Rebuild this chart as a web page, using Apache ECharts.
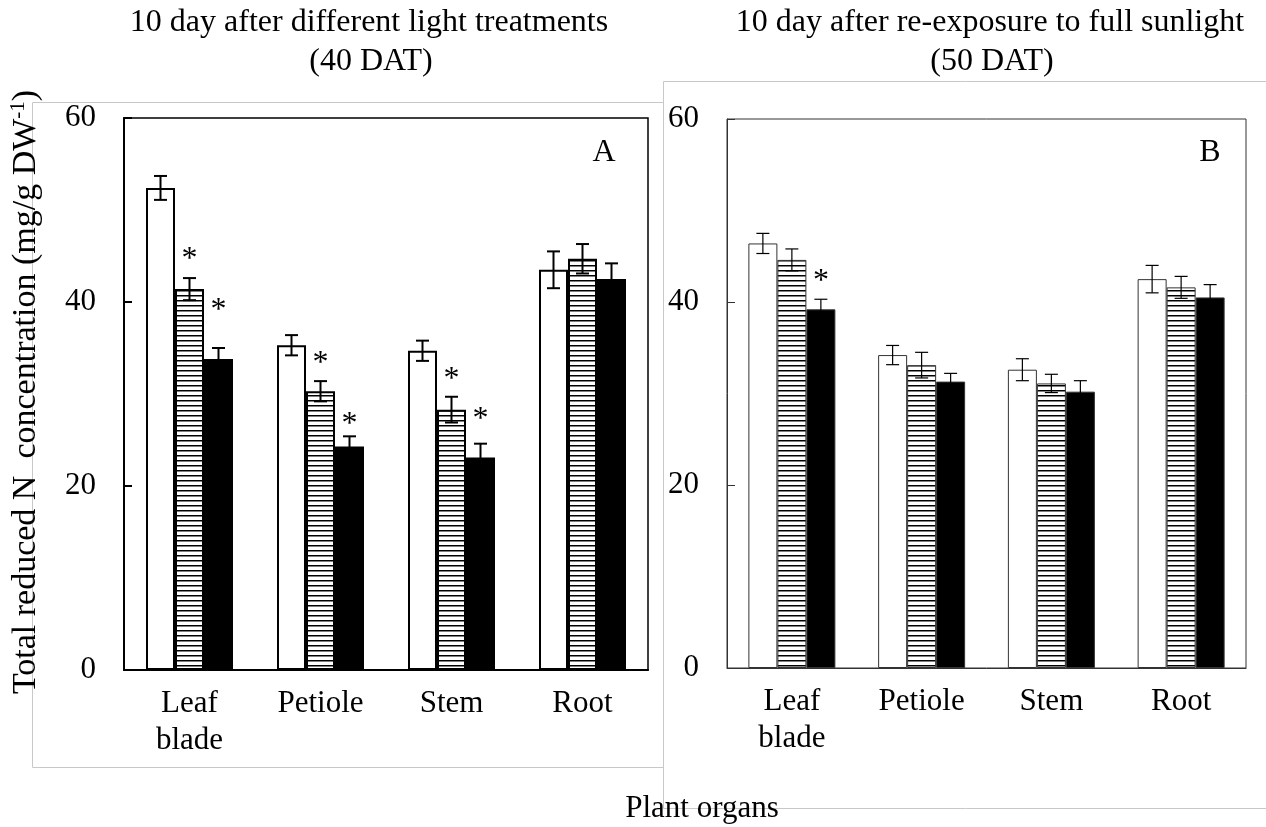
<!DOCTYPE html>
<html>
<head>
<meta charset="utf-8">
<script src="https://cdn.jsdelivr.net/npm/echarts@6/dist/echarts.min.js"></script>
<style>
  html, body { margin: 0; padding: 0; background: #fff; }
  #chart { width: 1266px; height: 827px; }
</style>
</head>
<body>
<div id="chart"></div>
<script>
// organs on the x axis
const organs = ["Leaf\nblade", "Petiole", "Stem", "Root"];

// panel A: 40 DAT (white, striped, black treatments)
const aWhite = [52.4, 35.3, 34.7, 43.5];
const aStriped = [41.4, 30.3, 28.3, 44.7];
const aBlack = [33.8, 24.3, 23.1, 42.5];
const aWhiteErr = [1.3, 1.1, 1.1, 2.0];
const aStripedErr = [1.2, 1.1, 1.4, 1.6];
const aBlackErr = [1.2, 1.1, 1.5, 1.7];
// significance marks: [organ index, treatment index, y position]
const aStars = [[0, 1, 45.4], [0, 2, 39.8], [1, 1, 34.1], [1, 2, 27.4], [2, 1, 32.3], [2, 2, 28.0]];

// panel B: 50 DAT
const bWhite = [46.4, 34.2, 32.6, 42.5];
const bStriped = [44.6, 33.1, 31.1, 41.6];
const bBlack = [39.2, 31.3, 30.2, 40.5];
const bWhiteErr = [1.1, 1.05, 1.2, 1.5];
const bStripedErr = [1.2, 1.4, 1.0, 1.2];
const bBlackErr = [1.1, 0.9, 1.2, 1.4];
const bStars = [[0, 2, 43.0]];

const yTicks = [0, 20, 40, 60];

const FONT = "Liberation Serif";
const BAR_W = 29;

function stripePattern() {
  const c = document.createElement("canvas");
  c.width = 6;
  c.height = 5;
  const ctx = c.getContext("2d");
  ctx.fillStyle = "#fff";
  ctx.fillRect(0, 0, 6, 5);
  ctx.fillStyle = "#000";
  ctx.fillRect(0, 0, 6, 1.5);
  return c;
}
const stripe = { image: stripePattern(), repeat: "repeat" };

function errRender(idx, lw) {
  return function (params, api) {
    const k = api.value(0);
    const v = api.value(1);
    const e = api.value(2);
    const hi = api.coord([k, v + e]);
    const lo = api.coord([k, v - e]);
    const cx = hi[0] + (idx - 1) * BAR_W;
    const half = 6.5;
    const st = { stroke: "#000", lineWidth: lw };
    return {
      type: "group",
      children: [
        { type: "line", shape: { x1: cx, y1: hi[1], x2: cx, y2: lo[1] }, style: st },
        { type: "line", shape: { x1: cx - half, y1: hi[1], x2: cx + half, y2: hi[1] }, style: st },
        { type: "line", shape: { x1: cx - half, y1: lo[1], x2: cx + half, y2: lo[1] }, style: st },
      ],
    };
  };
}

function starRender(params, api) {
  const k = api.value(0);
  const idx = api.value(1);
  const p = api.coord([k, api.value(2)]);
  return {
    type: "text",
    style: {
      x: p[0] + (idx - 1) * BAR_W,
      y: p[1] + 7,
      text: "*",
      fontFamily: FONT,
      fontSize: 32,
      fill: "#000",
      align: "center",
      verticalAlign: "middle",
    },
  };
}

function panelSeries(g, vals, errs, stars, bw, bc) {
  const fills = ["#fff", stripe, "#000"];
  const out = [];
  vals.forEach((v, i) => {
    out.push({
      type: "bar",
      xAxisIndex: g,
      yAxisIndex: g,
      data: v,
      barWidth: BAR_W,
      barGap: "0%",
      itemStyle: { color: fills[i], borderColor: bc, borderWidth: bw },
      silent: true,
      z: 2,
    });
  });
  errs.forEach((e, i) => {
    out.push({
      type: "custom",
      xAxisIndex: g,
      yAxisIndex: g,
      data: e.map((x, k) => [k, vals[i][k], x]),
      renderItem: errRender(i, g === 0 ? 2 : 1.2),
      silent: true,
      z: 5,
    });
  });
  out.push({
    type: "custom",
    xAxisIndex: g,
    yAxisIndex: g,
    data: stars,
    renderItem: starRender,
    silent: true,
    z: 6,
  });
  return out;
}

function xAxis(g, lw, col) {
  return {
    type: "category",
    gridIndex: g,
    data: organs,
    axisLine: { lineStyle: { color: col, width: lw } },
    axisTick: { show: false },
    axisLabel: { fontFamily: FONT, fontSize: 31, color: "#000", lineHeight: 37, margin: 15 },
  };
}

function yAxis(g, lw, col) {
  return {
    type: "value",
    gridIndex: g,
    min: yTicks[0],
    max: yTicks[yTicks.length - 1],
    interval: 20,
    axisLine: { show: true, lineStyle: { color: col, width: lw } },
    axisTick: { show: true, inside: true, length: 8, lineStyle: { color: col, width: lw } },
    splitLine: { show: false },
    axisLabel: { fontFamily: FONT, fontSize: 31, color: "#000", margin: 28 },
  };
}

const titleStyle = { fontFamily: FONT, fontSize: 32, fill: "#000", align: "center", verticalAlign: "middle" };

const chart = echarts.init(document.getElementById("chart"));
chart.setOption({
  animation: false,
  grid: [
    { left: 124, top: 118, width: 524, height: 552, show: true, borderColor: "#000", borderWidth: 1.5, backgroundColor: "transparent" },
    { left: 727, top: 119, width: 519, height: 549, show: true, borderColor: "#333", borderWidth: 1, backgroundColor: "transparent" },
  ],
  xAxis: [xAxis(0, 2, "#000"), xAxis(1, 1, "#333")],
  yAxis: [yAxis(0, 2, "#000"), yAxis(1, 1, "#333")],
  series: [
    ...panelSeries(0, [aWhite, aStriped, aBlack], [aWhiteErr, aStripedErr, aBlackErr], aStars, 2, "#000"),
    ...panelSeries(1, [bWhite, bStriped, bBlack], [bWhiteErr, bStripedErr, bBlackErr], bStars, 1, "#333"),
  ],
  graphic: [
    // light frames round each panel
    { type: "rect", shape: { x: 32.5, y: 102.5, width: 631, height: 665 }, style: { fill: "none", stroke: "#c8c8c8", lineWidth: 1 }, z: 0 },
    { type: "rect", shape: { x: 663.5, y: 81.5, width: 620, height: 727 }, style: { fill: "none", stroke: "#c8c8c8", lineWidth: 1 }, z: 0 },
    // titles
    { type: "text", x: 369, y: 23, style: Object.assign({ text: "10 day after different light treatments" }, titleStyle) },
    { type: "text", x: 371, y: 62, style: Object.assign({ text: "(40 DAT)" }, titleStyle) },
    { type: "text", x: 990, y: 23, style: Object.assign({ text: "10 day after re-exposure to full sunlight" }, titleStyle) },
    { type: "text", x: 992, y: 62, style: Object.assign({ text: "(50 DAT)" }, titleStyle) },
    // panel letters
    { type: "text", x: 604, y: 153, z: 10, style: Object.assign({ text: "A" }, titleStyle) },
    { type: "text", x: 1210, y: 153, z: 10, style: Object.assign({ text: "B" }, titleStyle) },
    // axis titles
    {
      type: "text",
      x: 26,
      y: 392,
      rotation: Math.PI / 2,
      z: 10,
      style: {
        text: "{a|Total reduced N  concentration (mg/g DW}{s|-1}{a|)}",
        align: "center",
        verticalAlign: "middle",
        rich: {
          a: { fontFamily: FONT, fontSize: 34, fill: "#000", lineHeight: 36 },
          s: { fontFamily: FONT, fontSize: 21, fill: "#000", lineHeight: 36, verticalAlign: "top" },
        },
      },
    },
    { type: "text", x: 702, y: 809, z: 10, style: Object.assign({ text: "Plant organs" }, titleStyle, { fontSize: 31 }) },
  ],
});
</script>
</body>
</html>
